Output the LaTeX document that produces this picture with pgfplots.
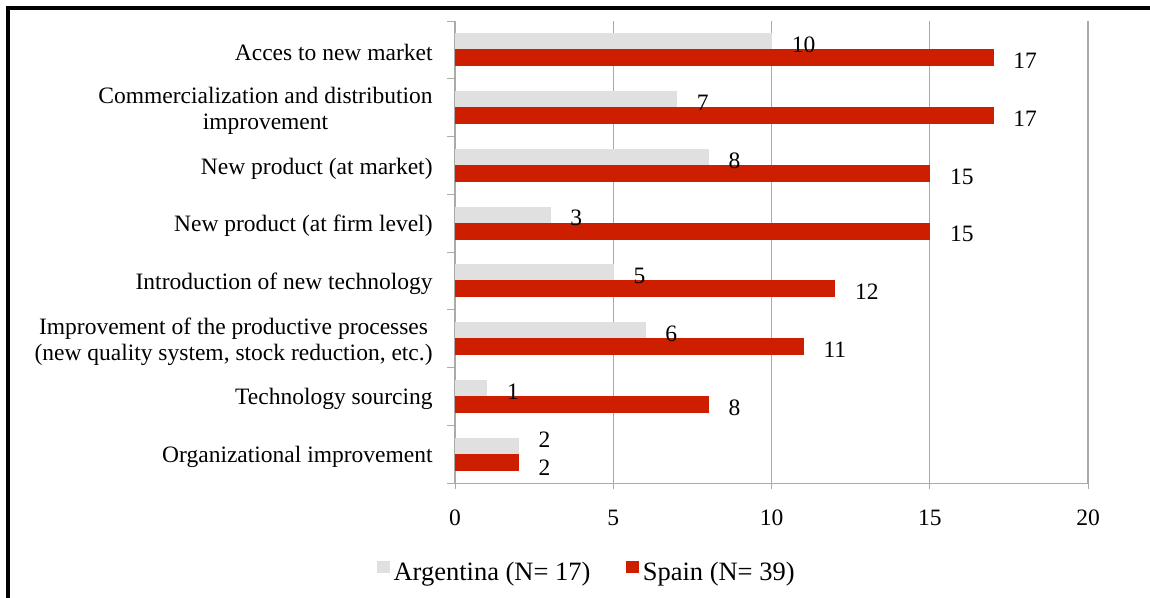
\documentclass[border=0pt]{standalone}
\usepackage{fontspec}
\setmainfont{Liberation Serif}
\usepackage{pgfplots}
\pgfplotsset{compat=1.18}
\definecolor{argc}{RGB}{224,224,224}
\definecolor{spac}{RGB}{206,30,0}
\definecolor{gridc}{RGB}{170,170,170}
\begin{document}
\begin{tikzpicture}
\useasboundingbox (0,0) rectangle (575pt,299pt);
\draw[line width=1.6pt,black] (4pt,0pt) -- (4pt,295pt) -- (575pt,295pt);
\begin{axis}[
  at={(227.5pt,57.5pt)}, anchor=south west,
  scale only axis, width=316.5pt, height=231pt,
  font=\fontsize{11.75}{13}\selectfont,
  /pgf/number format/assume math mode=true,
  xbar, bar width=8pt,
  xmin=0, xmax=20, ymin=-0.5, ymax=7.5,
  xtick={0,5,10,15,20},
  ytick={0,...,7},
  yticklabels={Organizational improvement,Technology sourcing,{Improvement of the productive processes\\(new quality system, stock reduction, etc.)},Introduction of new technology,New product (at firm level),New product (at market),{Commercialization and distribution\\improvement},Acces to new market},
  minor ytick={-0.5,0.5,...,7.5},
  axis x line*=bottom, axis y line*=left,
  axis line style={gridc,-},
  major tick length=0pt,
  minor tick length=4pt,
  tick align=outside,
  every tick/.style={gridc},
  every minor tick/.style={gridc},
  extra x ticks={0,5,10,15,20}, extra x tick labels={},
  extra x tick style={major tick length=3pt, grid=none},
  xmajorgrids, major grid style={gridc, line width=0.7pt},
  yticklabel style={align=center, anchor=east, inner sep=0pt, xshift=-11pt, yshift=-1.5pt},
  xticklabel style={anchor=center, inner sep=0pt, yshift=-17.5pt},
  nodes near coords,
  every node near coord/.append style={anchor=west, inner sep=0pt, xshift=10pt, yshift=-1.5pt, black, font=\fontsize{11.75}{13}\selectfont},
  legend columns=2,
  legend style={draw=none, at={(0.21,-0.194)}, anchor=center, font=\fontsize{13.25}{15}\selectfont,
    /tikz/every even column/.append style={column sep=16pt}},
  legend image code/.code={\fill[#1] (0pt,0pt) rectangle (5.75pt,5.75pt);},
]
\addplot[fill=argc, draw=argc, bar shift=4pt] coordinates {
 (1,1) (6,2) (5,3) (3,4) (8,5) (7,6) (10,7)};
\addlegendentry{Argentina (N= 17)}
\addplot[fill=spac, draw=spac, bar shift=-4pt] coordinates {
 (8,1) (11,2) (12,3) (15,4) (15,5) (17,6) (17,7)};
\addlegendentry{Spain (N= 39)}
\addplot[fill=argc, draw=argc, bar shift=4pt, forget plot,
  every node near coord/.append style={yshift=4.5pt}] coordinates {(2,0)};
\addplot[fill=spac, draw=spac, bar shift=-4pt, forget plot,
  every node near coord/.append style={yshift=-1.5pt}] coordinates {(2,0)};
\end{axis}
\end{tikzpicture}
\end{document}
